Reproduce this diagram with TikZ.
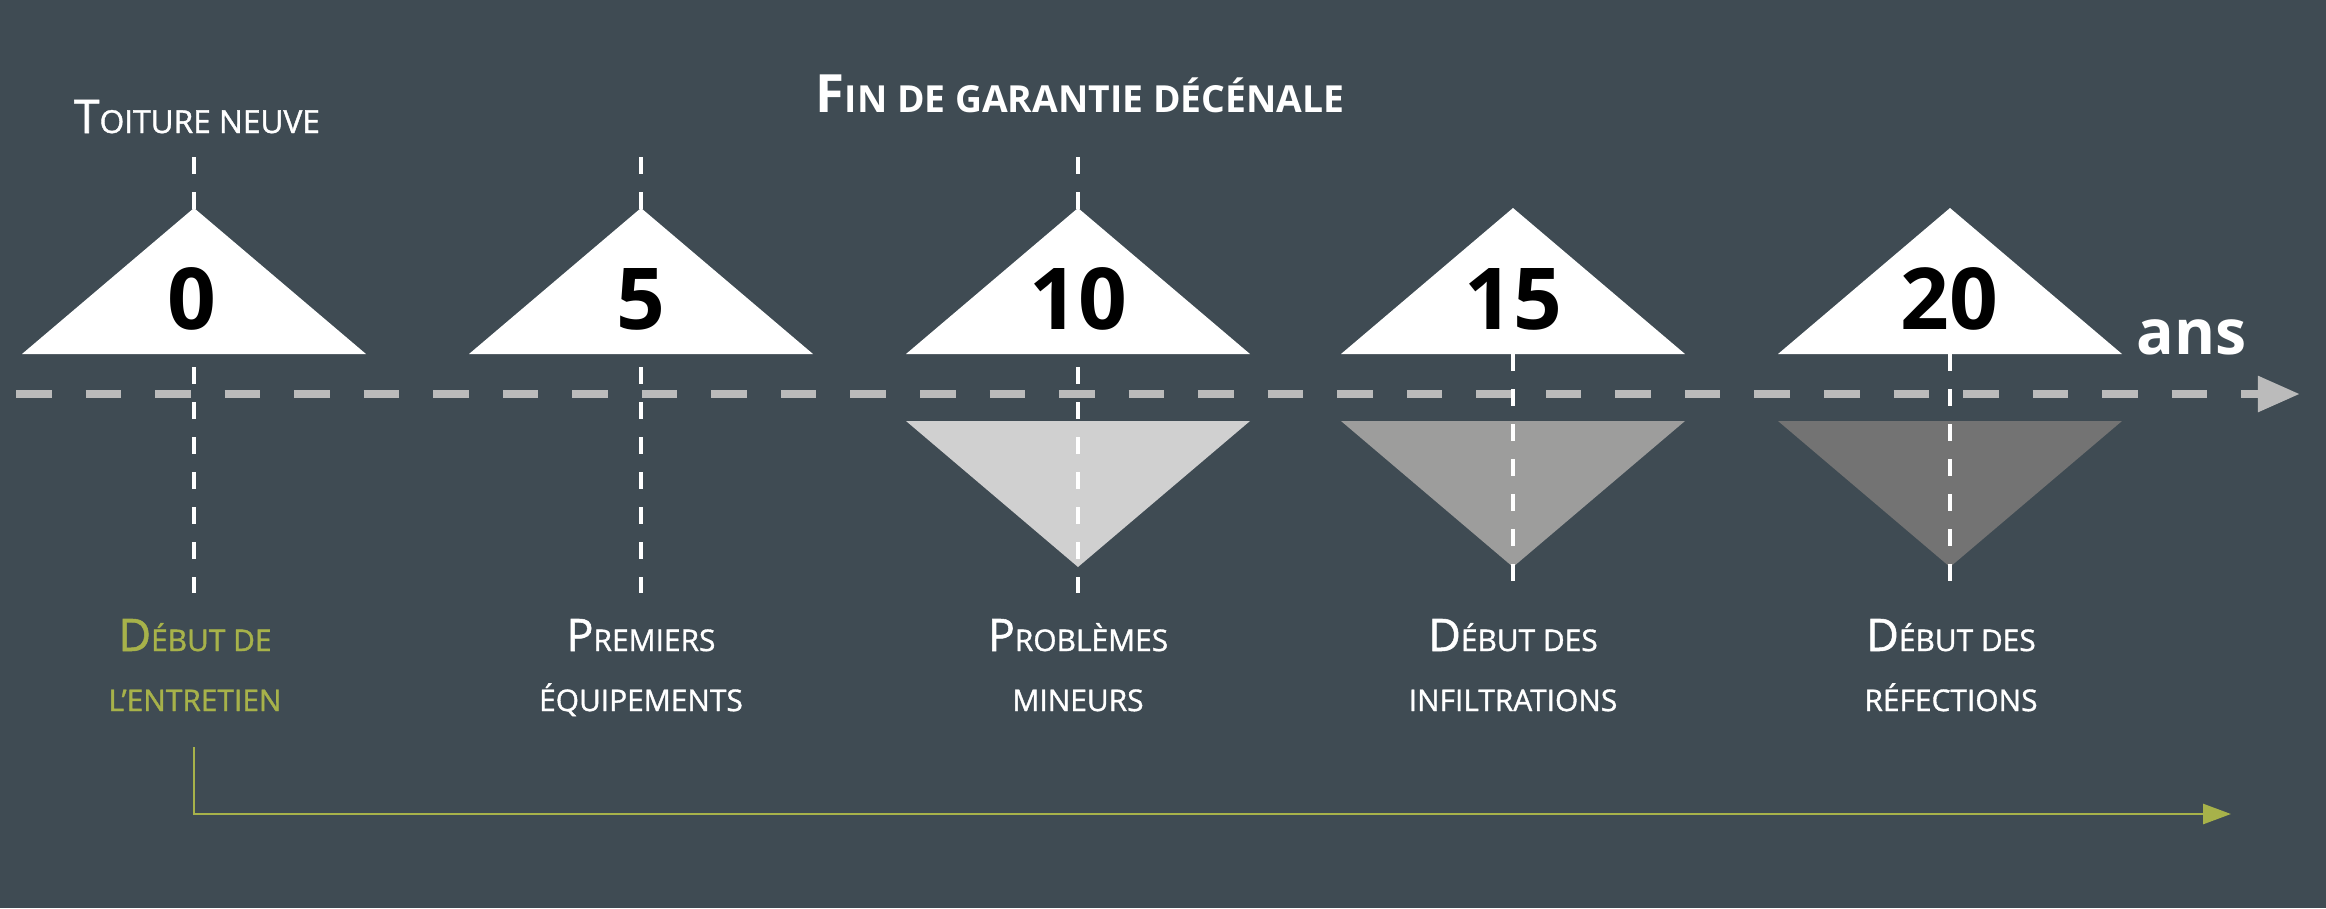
\documentclass[tikz,border=0pt]{standalone}
\usepackage{fontspec}
\setmainfont{Open Sans}
\newfontfamily\demigras[FakeBold=1.2]{Open Sans}
\usetikzlibrary{arrows.meta, positioning}

\definecolor{fond}{HTML}{3F4B53}
\definecolor{axe}{HTML}{BBBBBB}
\definecolor{vert}{HTML}{A7B24A}
\definecolor{gris1}{HTML}{D0D0D0}
\definecolor{gris2}{HTML}{9D9D9C}
\definecolor{gris3}{HTML}{737373}

% fausses petites capitales : initiale, puis le reste en capitales reduites
\newcommand{\capsp}[4]{{\fontsize{#1}{#1}\selectfont #3}{\fontsize{#2}{#2}\selectfont\MakeUppercase{#4}}}
\newcommand{\basse}[1]{{\fontsize{8.5pt}{8.5pt}\selectfont\MakeUppercase{#1}}}

\begin{document}
\begin{tikzpicture}[
    x=0.01cm, y=-0.01cm,
    every node/.style = {inner sep=0pt, text=white},
    annee/.style = {anchor=base, text=black, font=\bfseries\fontsize{24.3pt}{24.3pt}\selectfont},
    etape/.style = {anchor=base, font=\demigras},
    repere/.style = {white, line width=1.3pt, dash pattern=on 0.17cm off 0.18cm},
    sommet/.style = {fill=white}
]
    \fill[fond] (0,0) rectangle (2326,908);

    % axe des annees
    \coordinate (a0) at (16,394);
    \coordinate (a1) at (2300,394);
    \draw[axe, line width=0.085cm, dash pattern=on 0.355cm off 0.34cm,
        -{Triangle[length=0.42cm, width=0.34cm]}] (a0) -- (a1);

    % triangles du bas
    \fill[gris1] (906,421) -- (1250,421) -- (1078,567) -- cycle;
    \fill[gris2] (1341,421) -- (1685,421) -- (1513,567) -- cycle;
    \fill[gris3] (1778,421) -- (2122,421) -- (1950,567) -- cycle;

    % reperes verticaux
    \coordinate (h0) at (194,157);  \coordinate (b0) at (194,593);
    \coordinate (h5) at (641,157);  \coordinate (b5) at (641,593);
    \coordinate (h10) at (1078,157); \coordinate (b10) at (1078,593);
    \coordinate (h15) at (1513,354); \coordinate (b15) at (1513,593);
    \coordinate (h20) at (1950,354); \coordinate (b20) at (1950,593);

    \draw[repere] (h0) -- (b0);
    \draw[repere] (h5) -- (b5);
    \draw[repere] (h10) -- (b10);
    \draw[repere] (h15) -- (b15);
    \draw[repere] (h20) -- (b20);

    % triangles du haut
    \fill[sommet] (22,354) -- (194,208) -- (366,354) -- cycle;
    \fill[sommet] (469,354) -- (641,208) -- (813,354) -- cycle;
    \fill[sommet] (906,354) -- (1078,208) -- (1250,354) -- cycle;
    \fill[sommet] (1341,354) -- (1513,208) -- (1685,354) -- cycle;
    \fill[sommet] (1778,354) -- (1950,208) -- (2122,354) -- cycle;

    \node[annee] (n0) at (192,329) {0};
    \node[annee] (n5) at (641,329) {5};
    \node[annee] (n10) at (1078,329) {10};
    \node[annee] (n15) at (1513,329) {15};
    \node[annee] (n20) at (1949,329) {20};

    \node[anchor=base west, font=\bfseries\fontsize{17.8pt}{17.8pt}\selectfont] (ans) at (2136,354) {ans};

    \node[etape] (neuve) at (197,133) {\capsp{13.15pt}{9pt}{T}{oiture neuve}};
    \node[etape, font=\bfseries] (garantie) at (1080,112) {\capsp{15pt}{10.6pt}{F}{in de garantie décénale}};

    % libelles sous l'axe
    \node[etape, text=vert] (l0) at (195,651) {\capsp{12.75pt}{8.5pt}{D}{ébut de}};
    \node[etape, text=vert, below=0.6cm of l0.base, anchor=base] (m0) {\basse{l’entretien}};
    \node[etape] (l5) at (641,651) {\capsp{12.75pt}{8.5pt}{P}{remiers}};
    \node[etape, below=0.6cm of l5.base, anchor=base] (m5) {\basse{équipements}};
    \node[etape] (l10) at (1078,651) {\capsp{12.75pt}{8.5pt}{P}{roblèmes}};
    \node[etape, below=0.6cm of l10.base, anchor=base] (m10) {\basse{mineurs}};
    \node[etape] (l15) at (1513,651) {\capsp{12.75pt}{8.5pt}{D}{ébut des}};
    \node[etape, below=0.6cm of l15.base, anchor=base] (m15) {\basse{infiltrations}};
    \node[etape] (l20) at (1951,651) {\capsp{12.75pt}{8.5pt}{D}{ébut des}};
    \node[etape, below=0.6cm of l20.base, anchor=base] (m20) {\basse{réfections}};

    % entretien
    \coordinate (e0) at (194,747);
    \coordinate (e1) at (2231,814);
    \draw[vert, line width=0.8pt, -{Triangle[length=0.28cm, width=0.2cm]}] (e0) |- (e1);
\end{tikzpicture}
\end{document}
